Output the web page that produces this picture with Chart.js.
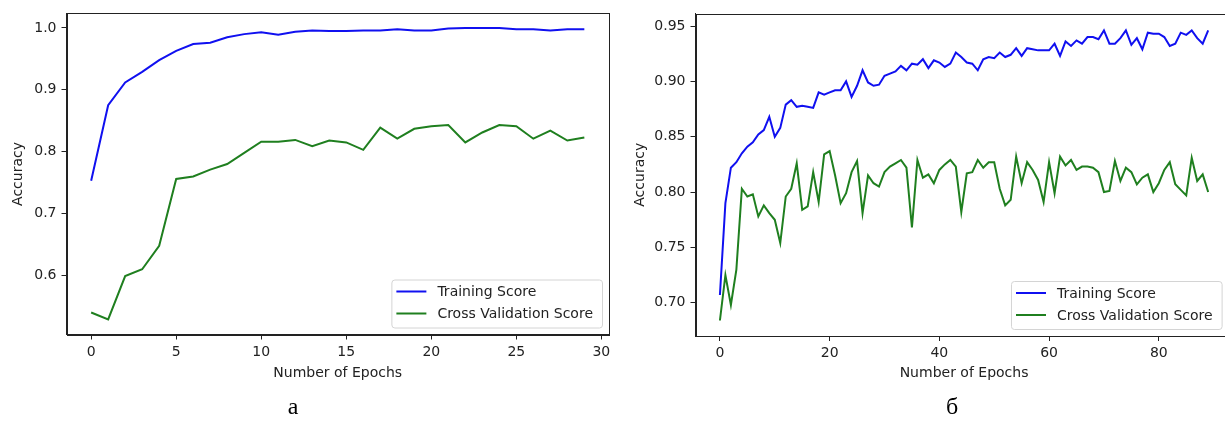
<!DOCTYPE html>
<html>
<head>
<meta charset="utf-8">
<script src="https://cdn.jsdelivr.net/npm/chart.js@4.4.1/dist/chart.umd.min.js"></script>
<style>
  html, body { margin: 0; padding: 0; background: #fff; }
  body { width: 1225px; height: 426px; overflow: hidden; position: relative; }
  canvas { position: absolute; top: 0; }
  #chartA { left: 0; }
  #chartB { left: 625px; }
  .cap {
    position: absolute;
    font-family: "Liberation Serif", "Times New Roman", serif;
    font-size: 24px;
    color: #000;
    transform: translate(-50%, -50%);
  }
</style>
</head>
<body>
<canvas id="chartA" width="620" height="395"></canvas>
<canvas id="chartB" width="620" height="395"></canvas>
<div class="cap" style="left:293px; top:406px;">а</div>
<div class="cap" style="left:952px; top:406px;">б</div>

<script>
// ---- (а) 30 epochs ----
const epochsA = [0, 1, 2, 3, 4, 5, 6, 7, 8, 9, 10, 11, 12, 13, 14, 15, 16, 17, 18, 19,
                 20, 21, 22, 23, 24, 25, 26, 27, 28, 29];
const trainA = [0.753, 0.875, 0.912, 0.929, 0.948, 0.963, 0.974, 0.976, 0.985, 0.990,
                0.993, 0.989, 0.994, 0.996, 0.995, 0.995, 0.996, 0.996, 0.998, 0.996,
                0.996, 0.999, 1.000, 1.000, 1.000, 0.998, 0.998, 0.996, 0.998, 0.998];
const cvA = [0.540, 0.529, 0.599, 0.610, 0.648, 0.756, 0.760, 0.771, 0.780, 0.798,
             0.816, 0.816, 0.819, 0.809, 0.818, 0.815, 0.803, 0.839, 0.821, 0.837,
             0.841, 0.843, 0.815, 0.831, 0.843, 0.841, 0.821, 0.834, 0.818, 0.823];

// ---- (б) 90 epochs ----
const epochsB = [0, 1, 2, 3, 4, 5, 6, 7, 8, 9, 10, 11, 12, 13, 14, 15, 16, 17, 18, 19,
                 20, 21, 22, 23, 24, 25, 26, 27, 28, 29, 30, 31, 32, 33, 34, 35, 36, 37, 38, 39,
                 40, 41, 42, 43, 44, 45, 46, 47, 48, 49, 50, 51, 52, 53, 54, 55, 56, 57, 58, 59,
                 60, 61, 62, 63, 64, 65, 66, 67, 68, 69, 70, 71, 72, 73, 74, 75, 76, 77, 78, 79,
                 80, 81, 82, 83, 84, 85, 86, 87, 88, 89];
const trainB = [0.707, 0.790, 0.822, 0.827, 0.835, 0.841, 0.845, 0.852, 0.856, 0.868,
                0.850, 0.858, 0.879, 0.883, 0.877, 0.878, 0.877, 0.876, 0.890, 0.888,
                0.890, 0.892, 0.892, 0.900, 0.886, 0.896, 0.910, 0.899, 0.896, 0.897,
                0.905, 0.907, 0.909, 0.914, 0.910, 0.916, 0.915, 0.920, 0.912, 0.919,
                0.917, 0.913, 0.916, 0.926, 0.922, 0.917, 0.916, 0.910, 0.920, 0.922,
                0.921, 0.926, 0.922, 0.924, 0.930, 0.923, 0.930, 0.929, 0.928, 0.928,
                0.928, 0.934, 0.923, 0.936, 0.932, 0.937, 0.934, 0.940, 0.940, 0.938,
                0.946, 0.934, 0.934, 0.939, 0.946, 0.933, 0.939, 0.929, 0.944, 0.943,
                0.943, 0.940, 0.932, 0.934, 0.944, 0.942, 0.946, 0.939, 0.934, 0.946];
const cvB = [0.684, 0.725, 0.698, 0.730, 0.803, 0.796, 0.798, 0.778, 0.788, 0.781,
             0.775, 0.754, 0.796, 0.803, 0.826, 0.784, 0.787, 0.818, 0.791, 0.834,
             0.837, 0.815, 0.790, 0.799, 0.818, 0.828, 0.781, 0.815, 0.808, 0.805,
             0.818, 0.823, 0.826, 0.829, 0.822, 0.768, 0.829, 0.813, 0.816, 0.808,
             0.820, 0.825, 0.829, 0.823, 0.782, 0.817, 0.818, 0.829, 0.822, 0.827,
             0.827, 0.803, 0.788, 0.793, 0.832, 0.808, 0.827, 0.820, 0.811, 0.791,
             0.827, 0.799, 0.832, 0.824, 0.829, 0.820, 0.823, 0.823, 0.822, 0.818,
             0.800, 0.801, 0.828, 0.810, 0.822, 0.818, 0.807, 0.813, 0.816, 0.800,
             0.808, 0.820, 0.827, 0.807, 0.802, 0.797, 0.831, 0.810, 0.816, 0.800];

const seriesNames = ['Training Score', 'Cross Validation Score'];
const xTitle = 'Number of Epochs';
const yTitle = 'Accuracy';

const BLUE = '#1010f0';
const GREEN = '#1f7f1f';
const INK = '#222222';
const FONT = { family: '"DejaVu Sans", sans-serif', size: 14 };

// Full rectangular frame around the plot area
const framePlugin = {
  id: 'frame',
  afterDraw(chart) {
    const { ctx, chartArea: a } = chart;
    ctx.save();
    ctx.strokeStyle = INK;
    ctx.lineWidth = 1;
    const l = Math.round(a.left) + 0.5, t = Math.round(a.top) + 0.5;
    const r = Math.round(a.right) + 0.5, b = Math.round(a.bottom) + 0.5;
    ctx.strokeRect(l, t, r - l, b - t);
    ctx.restore();
  }
};

// Boxed legend in the lower-right corner of the plot area
const boxLegendPlugin = {
  id: 'boxLegend',
  afterDraw(chart, args, opts) {
    const { ctx, chartArea: a } = chart;
    const sets = chart.data.datasets;
    ctx.save();
    ctx.font = '14px "DejaVu Sans", sans-serif';
    let tw = 0;
    sets.forEach(d => { tw = Math.max(tw, ctx.measureText(d.label).width); });
    const pad = 9, lineLen = 30, lineOff = 5, textOff = 46, rowH = 22;
    const w = textOff + tw + pad;
    const h = 48;
    const right = a.right - opts.inset;
    const bottom = a.bottom - 7;
    const x0 = right - w, y0 = bottom - h;
    ctx.beginPath();
    if (ctx.roundRect) ctx.roundRect(x0 + 0.5, y0 + 0.5, w, h, 3);
    else ctx.rect(x0 + 0.5, y0 + 0.5, w, h);
    ctx.fillStyle = 'rgba(255,255,255,0.85)';
    ctx.fill();
    ctx.strokeStyle = '#d4d4d4';
    ctx.lineWidth = 1;
    ctx.stroke();
    sets.forEach((d, i) => {
      const cy = y0 + 12 + i * rowH;
      ctx.beginPath();
      ctx.moveTo(x0 + lineOff, cy);
      ctx.lineTo(x0 + lineOff + lineLen, cy);
      ctx.strokeStyle = d.borderColor;
      ctx.lineWidth = 2;
      ctx.stroke();
      ctx.fillStyle = INK;
      ctx.textBaseline = 'middle';
      ctx.textAlign = 'left';
      ctx.fillText(d.label, x0 + textOff, cy + 1);
    });
    ctx.restore();
  }
};

function makeChart(id, epochs, train, cv, o) {
  return new Chart(document.getElementById(id), {
    type: 'line',
    data: {
      labels: epochs,
      datasets: [
        { label: seriesNames[0], data: train, borderColor: BLUE, borderWidth: 2,
          pointRadius: 0, tension: 0, fill: false },
        { label: seriesNames[1], data: cv, borderColor: GREEN, borderWidth: 2,
          pointRadius: 0, tension: 0, fill: false }
      ]
    },
    options: {
      responsive: false,
      animation: false,
      devicePixelRatio: 1,
      layout: { padding: { left: 0, top: o.top, right: o.right, bottom: 0 } },
      plugins: {
        legend: { display: false },
        tooltip: { enabled: false },
        boxLegend: { inset: o.inset }
      },
      scales: {
        x: {
          type: 'linear',
          min: o.xMin, max: o.xMax,
          afterFit(s) { s.height = o.xAxisH; },
          ticks: {
            stepSize: o.xStep, includeBounds: false, autoSkip: false, maxRotation: 0,
            font: FONT, color: INK, padding: 4,
            callback: v => String(v)
          },
          grid: { display: true, drawOnChartArea: false, drawTicks: true, tickLength: 5,
                  color: INK, lineWidth: 1 },
          border: { display: true, color: INK, width: 1 },
          title: { display: true, text: xTitle, font: FONT, color: INK,
                   padding: { top: 0, bottom: 13.5 } }
        },
        y: {
          type: 'linear',
          min: o.yMin, max: o.yMax,
          afterFit(s) { s.width = o.yAxisW; },
          ticks: {
            stepSize: o.yStep, includeBounds: false, autoSkip: false,
            font: FONT, color: INK, padding: 5,
            callback: v => v.toFixed(o.yDigits)
          },
          grid: { display: true, drawOnChartArea: false, drawTicks: true, tickLength: 5,
                  color: INK, lineWidth: 1 },
          border: { display: true, color: INK, width: 1 },
          title: { display: true, text: yTitle, font: FONT, color: INK,
                   padding: { top: o.yTitlePad, bottom: 0 } }
        }
      }
    },
    plugins: [framePlugin, boxLegendPlugin]
  });
}

makeChart('chartA', epochsA, trainA, cvA, {
  top: 13, right: 11, xAxisH: 395 - 334.5, yAxisW: 66.5,
  xMin: -1.45, xMax: 30.45, xStep: 5,
  yMin: 0.5045, yMax: 1.0235, yStep: 0.1, yDigits: 1,
  yTitlePad: 9.5, inset: 7
});

makeChart('chartB', epochsB, trainB, cvB, {
  top: 13.5, right: 12.4, xAxisH: 395 - 336, yAxisW: 70.5,
  xMin: -4.45, xMax: 93.45, xStep: 20,
  yMin: 0.670, yMax: 0.9613, yStep: 0.05, yDigits: 2,
  yTitlePad: 6.5, inset: 11
});
</script>
</body>
</html>
